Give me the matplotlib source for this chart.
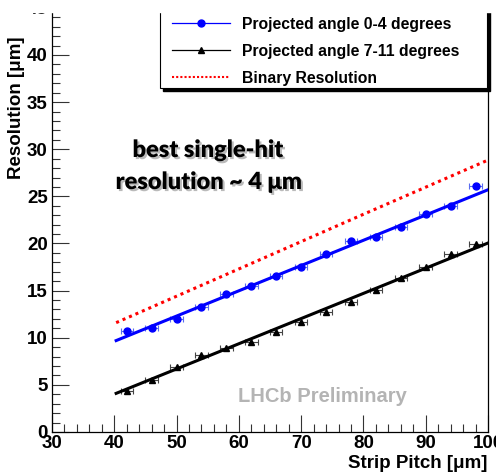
import numpy as np
import matplotlib.pyplot as plt
from matplotlib.lines import Line2D
from matplotlib.patches import Rectangle
import matplotlib.patheffects as pe
from matplotlib.ticker import MultipleLocator

# Strip pitch values (um)
pitch = np.array([42, 46, 50, 54, 58, 62, 66, 70, 74, 78, 82, 86, 90, 94, 98])
pitch_err = np.array([1.0] * 15)

# Projected angle 0-4 degrees
res_low = np.array([10.75, 11.0, 11.95, 13.3, 14.6, 15.5, 16.5, 17.5,
                    18.9, 20.3, 20.7, 21.7, 23.1, 24.0, 26.1])
# Projected angle 7-11 degrees
res_high = np.array([4.3, 5.5, 6.9, 8.2, 8.9, 9.6, 10.6, 11.7,
                     12.7, 13.8, 15.1, 16.3, 17.5, 18.85, 19.9])

# Linear fits (read at the ends of the drawn lines)
fit_x = np.array([40.3, 100.0])
fit_low = np.array([9.7, 25.7])
fit_high = np.array([4.1, 20.05])

# Binary resolution
bin_x = np.array([40.3, 60.0, 80.0, 100.0])
bin_y = np.array([11.6, 17.3, 23.1, 28.85])

W, H = 496, 475
fig = plt.figure(figsize=(W / 100, H / 100), dpi=100)
ax = fig.add_axes([52 / W, (H - 432) / H, 436 / W, 443 / H])
ax.set_xlim(30, 100)
ax.set_ylim(0, 47)

bold = dict(family='Liberation Sans', weight='bold')

ax.errorbar(pitch, res_low, xerr=pitch_err, fmt='o', color='blue', ms=5,
            ecolor='#5a6cf0', elinewidth=0.8, capsize=2, capthick=0.8, zorder=3)
ax.errorbar(pitch, res_high, xerr=pitch_err, fmt='^', color='black', ms=4.5,
            ecolor='#444444', elinewidth=0.8, capsize=2, capthick=0.8, zorder=3)
ax.plot(fit_x, fit_low, color='blue', lw=2.2, zorder=4)
ax.plot(fit_x, fit_high, color='black', lw=2.2, zorder=4)
ax.plot(bin_x, bin_y, color='red', lw=2.2, linestyle=(0, (1, 1.3)), zorder=2)

ax.xaxis.set_major_locator(MultipleLocator(10))
ax.xaxis.set_minor_locator(MultipleLocator(2))
ax.yaxis.set_major_locator(MultipleLocator(5))
ax.yaxis.set_minor_locator(MultipleLocator(1))
ax.tick_params(axis='both', which='both', direction='in', colors='#333333',
               labelcolor='black', width=0.8)
ax.tick_params(axis='both', which='major', length=12)
ax.tick_params(axis='both', which='minor', length=6)
ax.tick_params(axis='y', pad=3)
ax.tick_params(axis='x', pad=2)
for lab in ax.get_xticklabels() + ax.get_yticklabels():
    lab.set_fontproperties('Liberation Sans')
    lab.set_fontweight('bold')
    lab.set_fontsize(13.5)
ax.spines['top'].set_visible(False)
for s in ['left', 'right', 'bottom']:
    ax.spines[s].set_linewidth(0.9)

fig.text(487 / W, 1 - 463 / H, 'Strip Pitch [\u03bcm]', ha='right', va='center',
         fontsize=13.5, **bold)
fig.text(17 / W, 1 - 108 / H, 'Resolution [\u03bcm]', ha='center', va='center',
         rotation=90, fontsize=13.5, **bold)

shadow = [pe.SimplePatchShadow(offset=(1.5, -1.5), shadow_rgbFace='#777777', alpha=0.5),
          pe.Normal()]
fig.text(208 / W, 1 - 150 / H, 'best single-hit', ha='center', va='center',
         fontsize=17, family='Lato', weight='heavy', path_effects=shadow)
fig.text(209 / W, 1 - 182 / H, 'resolution ~ 4 \u03bcm', ha='center', va='center',
         fontsize=17, family='Lato', weight='heavy', path_effects=shadow)
fig.text(322 / W, 1 - 397 / H, 'LHCb Preliminary', ha='center', va='center',
         fontsize=14.5, color='#b4b4b4', **bold)

# legend box with ROOT-like shadow
fig.patches.append(Rectangle((163 / W, 1 - 91 / H), 327 / W, 90 / H,
                             transform=fig.transFigure, color='black', zorder=5))
fig.patches.append(Rectangle((160 / W, 1 - 88 / H), 327 / W, 90 / H,
                             transform=fig.transFigure, facecolor='white',
                             edgecolor='black', lw=0.8, zorder=6))
handles = [Line2D([], [], color='blue', lw=0.9, marker='o', ms=5),
           Line2D([], [], color='black', lw=0.9, marker='^', ms=4),
           Line2D([], [], color='red', lw=1.5, linestyle=(0, (1, 1)))]
labels = ['Projected angle 0-4 degrees', 'Projected angle 7-11 degrees',
          'Binary Resolution']
leg = fig.legend(handles, labels, loc='upper left', bbox_to_anchor=(172 / W, 1 - 16.5 / H),
                 frameon=False, handlelength=3.7, handletextpad=0.75, labelspacing=0.78,
                 borderpad=0, borderaxespad=0, prop=dict(family='Liberation Sans',
                                                         weight='bold', size=11.3))
leg.set_zorder(7)

# the top strip of the original picture is blank
fig.patches.append(Rectangle((0, 1 - 12 / H), 1, 12 / H, transform=fig.transFigure,
                             color='white', zorder=8))

fig.savefig('out.png', dpi=100)
